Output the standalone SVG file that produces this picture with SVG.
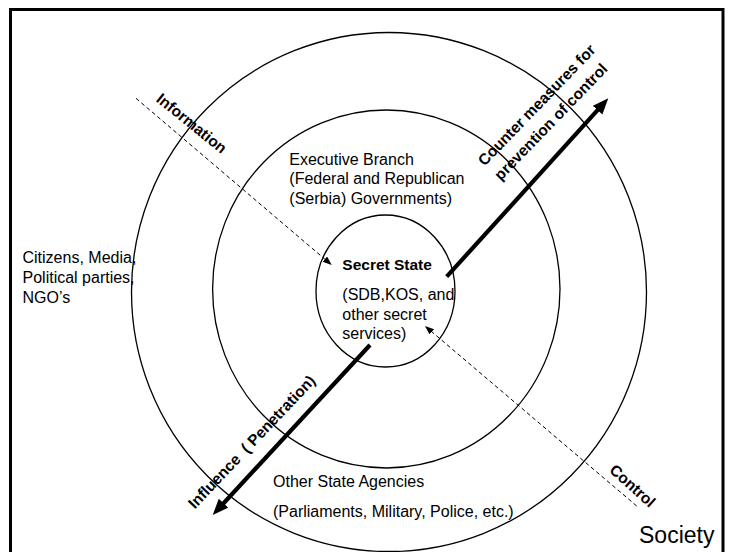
<svg xmlns="http://www.w3.org/2000/svg" width="730" height="552" viewBox="0 0 730 552">
<style>
  .ring { fill: none; stroke: #000; stroke-width: 1.3; }
  .t { font-family: "Liberation Sans", Arial, sans-serif; font-size: 16px; fill: #000; }
  .b { font-family: "Liberation Sans", Arial, sans-serif; font-size: 15.5px; font-weight: bold; fill: #000; }
  .thick { stroke: #000; stroke-width: 4.2; fill: none; }
  .dash { stroke: #000; stroke-width: 1; stroke-dasharray: 4 3; fill: none; }
</style>
<defs>
  <marker id="bigHead" markerUnits="userSpaceOnUse" markerWidth="18" markerHeight="14" refX="2" refY="6.5" orient="auto">
    <path d="M0,0 L16,6.5 L0,13 z" fill="#000"/>
  </marker>
  <marker id="smallHead" markerUnits="userSpaceOnUse" markerWidth="11" markerHeight="9" refX="2" refY="3.5" orient="auto">
    <path d="M0,0 L9,3.5 L0,7 z" fill="#000"/>
  </marker>
</defs>
<rect width="730" height="552" fill="#fff"/>
<path d="M10.5,560 V9.5 H723 V560" fill="none" stroke="#000" stroke-width="3"/>

<g id="society">
  <ellipse class="ring" cx="389" cy="292" rx="257.5" ry="259.5"/>
  <text class="t" x="22.5" y="263.3">Citizens, Media,</text>
  <text class="t" x="22.5" y="283">Political parties,</text>
  <text class="t" x="22.5" y="302.7">NGO’s</text>
  <text class="t" x="639" y="543" style="font-size:23px">Society</text>
</g>

<g id="state-agencies">
  <text class="t" x="273" y="487.3">Other State Agencies</text>
  <text class="t" x="273" y="516.7">(Parliaments, Military, Police, etc.)</text>
</g>

<g id="executive-branch">
  <ellipse class="ring" cx="386.3" cy="289" rx="173.7" ry="179"/>
  <text class="t" x="289.3" y="165">Executive Branch</text>
  <text class="t" x="289.3" y="184.3">(Federal and Republican</text>
  <text class="t" x="289.3" y="203.5">(Serbia) Governments)</text>
</g>

<g id="secret-state">
  <ellipse class="ring" cx="385.5" cy="291" rx="69.5" ry="76"/>
  <text class="t" x="342.3" y="270" style="font-weight:bold;font-size:15.5px">Secret State</text>
  <text class="t" x="342.3" y="300">(SDB,KOS, and</text>
  <text class="t" x="342.3" y="319.5">other secret</text>
  <text class="t" x="342.3" y="339">services)</text>
</g>

<g id="connectors">
  <line class="dash" x1="136" y1="98.3" x2="326.4" y2="260.5" marker-end="url(#smallHead)"/>
  <line class="dash" x1="636.7" y1="506" x2="430.3" y2="330.5" marker-end="url(#smallHead)"/>
  <line class="thick" x1="446.7" y1="276.7" x2="598.9" y2="108.7" marker-end="url(#bigHead)"/>
  <line class="thick" x1="370" y1="345" x2="222.2" y2="504.7" marker-end="url(#bigHead)"/>
</g>

<g id="labels">
  <text class="b" text-anchor="middle" transform="translate(188.3,127.5) rotate(39)">Information</text>
  <text class="b" text-anchor="middle" transform="translate(540.5,108.7) rotate(-46)">Counter measures for</text>
  <text class="b" text-anchor="middle" transform="translate(554.7,125.4) rotate(-46)">prevention of control</text>
  <text class="b" text-anchor="middle" transform="translate(629,489.8) rotate(42)">Control</text>
  <text class="b" text-anchor="middle" transform="translate(255.5,445.5) rotate(-46.5)" xml:space="preserve">Influence  ( Penetration)</text>
</g>
</svg>
